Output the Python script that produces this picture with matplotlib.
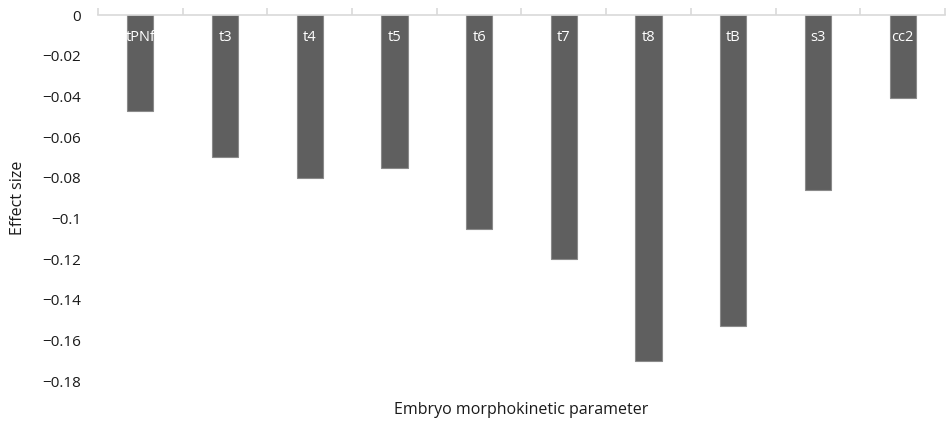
import matplotlib
matplotlib.use('Agg')
import matplotlib.pyplot as plt
import numpy as np

# Chart data
parameters = ['tPNf', 't3', 't4', 't5', 't6', 't7', 't8', 'tB', 's3', 'cc2']
effectSizes = [-0.047, -0.070, -0.080, -0.075, -0.105, -0.120, -0.170, -0.153, -0.086, -0.041]
yTicks = [0, -0.02, -0.04, -0.06, -0.08, -0.1, -0.12, -0.14, -0.16, -0.18]
yTickLabels = ['0', '\u22120.02', '\u22120.04', '\u22120.06', '\u22120.08', '\u22120.1',
               '\u22120.12', '\u22120.14', '\u22120.16', '\u22120.18']

plt.rcParams['font.family'] = ['Open Sans', 'DejaVu Sans']

fig = plt.figure(figsize=(9.53, 4.23), dpi=100)
ax = fig.add_axes([98 / 953, 1 - 381 / 423, 847 / 953, 366 / 423])

xPositions = np.arange(len(parameters)) + 0.5
ax.bar(xPositions, effectSizes, width=0.31, color='#5f5f5f', edgecolor='#8a8a8a', linewidth=0.8, zorder=2)

# Category names sit inside the top of each bar.
for x, name in zip(xPositions, parameters):
    ax.text(x, -0.011, name, color='white', fontsize=10.5, ha='center', va='center', zorder=3)

ax.set_xlim(0, len(parameters))
ax.set_ylim(-0.18, 0)

# Horizontal axis line at zero with tick marks between categories.
for side in ['left', 'right', 'top']:
    ax.spines[side].set_visible(False)
ax.spines['bottom'].set_position(('data', 0))
ax.spines['bottom'].set_color('#d9d9d9')
ax.spines['bottom'].set_linewidth(1.2)
ax.set_xticks(np.arange(len(parameters) + 1))
ax.tick_params(axis='x', direction='in', length=5, color='#d9d9d9', width=1.2, labelbottom=False)

ax.set_yticks(yTicks)
ax.set_yticklabels(yTickLabels)
ax.tick_params(axis='y', length=0, pad=12, labelsize=11, labelcolor='#1a1a1a')

ax.set_ylabel('Effect size', fontsize=11.5, color='#1a1a1a', labelpad=12)
fig.text((98 + 945) / 2 / 953, 1 - 410 / 423, 'Embryo morphokinetic parameter',
         fontsize=11.5, color='#1a1a1a', ha='center', va='center')

plt.savefig('out.png', dpi=100)
